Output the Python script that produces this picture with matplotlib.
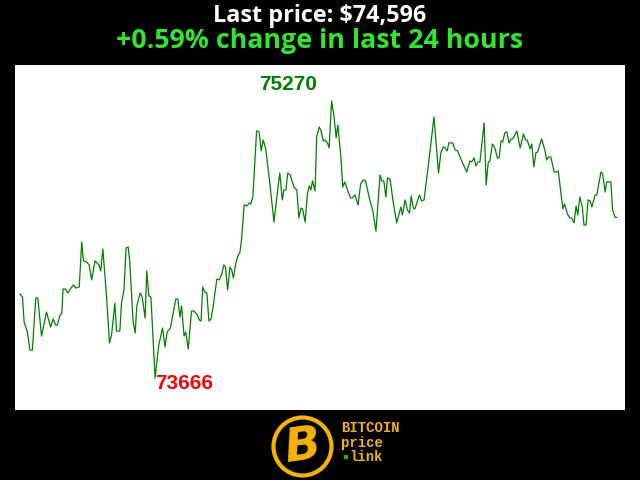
import numpy as np
import matplotlib
matplotlib.use('Agg')
import matplotlib.pyplot as plt
from matplotlib.patches import Circle

# minutes since start of the 24h window
minutes = [0, 6, 10, 18, 24, 30, 38, 43, 52, 64, 74, 80, 86, 90, 97, 101, 104, 110, 115, 123,
           129, 135, 143, 149, 153, 161, 167, 173, 181, 191, 195, 200, 209, 216, 221, 229, 233, 241, 245, 251,
           256, 261, 265, 273, 278, 282, 290, 295, 302, 306, 311, 316, 326, 335, 344, 350, 355, 363, 376, 381,
           386, 390, 396, 400, 406, 414, 420, 428, 433, 437, 441, 446, 451, 456, 461, 466, 475, 481, 487, 492,
           496, 501, 507, 511, 515, 521, 525, 531, 535, 541, 547, 553, 557, 562, 571, 577, 582, 587, 593, 602,
           613, 623, 627, 633, 637, 642, 646, 652, 661, 668, 673, 678, 682, 688, 694, 698, 702, 706, 712, 716,
           722, 726, 732, 736, 742, 746, 752, 758, 763, 767, 774, 779, 784, 792, 798, 802, 808, 816, 822, 828,
           834, 843, 851, 859, 869, 873, 878, 883, 887, 893, 901, 909, 919, 923, 929, 935, 940, 944, 949, 953,
           964, 969, 975, 985, 999, 1010, 1016, 1022, 1026, 1031, 1035, 1040, 1044, 1050, 1056, 1066, 1078, 1086, 1090, 1096,
           1100, 1106, 1110, 1120, 1125, 1130, 1134, 1140, 1146, 1152, 1156, 1161, 1165, 1170, 1175, 1180, 1185, 1189, 1193, 1199,
           1207, 1215, 1220, 1224, 1231, 1235, 1240, 1245, 1249, 1259, 1267, 1271, 1275, 1281, 1289, 1294, 1299, 1310, 1314, 1321,
           1327, 1331, 1337, 1342, 1346, 1351, 1357, 1361, 1366, 1371, 1376, 1380, 1388, 1392, 1402, 1406, 1412, 1416, 1426, 1430,
           1436, 1440]

prices = [74152, 74135, 73990, 73932, 73828, 73828, 74129, 74129, 73909, 74048, 73961, 74008, 73973, 73973, 74031, 74042, 74181, 74181, 74158, 74187,
          74205, 74187, 74193, 74454, 74344, 74338, 74320, 74234, 74344, 74320, 74286, 74413, 74135, 73869, 73915, 74100, 73938, 73938, 74100, 74176,
          74419, 74425, 74338, 73990, 73927, 74083, 74158, 74135, 74013, 74286, 74141, 74135, 73666, 73857, 73956, 73846, 73932, 73956, 74123, 74123,
          74019, 74083, 73909, 73932, 73834, 74054, 74054, 74031, 74002, 73996, 74193, 74164, 74158, 73996, 74008, 74077, 74239, 74234, 74268, 74320,
          74309, 74176, 74309, 74291, 74245, 74332, 74367, 74396, 74477, 74668, 74662, 74679, 74674, 74714, 75096, 75091, 74981, 75044, 74992, 74813,
          74569, 74778, 74853, 74697, 74755, 74755, 74853, 74842, 74772, 74755, 74593, 74650, 74645, 74569, 74737, 74778, 74755, 74807, 74749, 75062,
          75119, 75102, 75038, 75044, 75027, 74998, 75270, 75177, 75056, 75131, 74957, 74772, 74801, 74743, 74708, 74708, 74726, 74668, 74789, 74813,
          74807, 74708, 74639, 74517, 74842, 74807, 74807, 74714, 74824, 74818, 74679, 74564, 74656, 74610, 74697, 74639, 74621, 74720, 74650, 74645,
          74726, 74691, 74697, 74888, 75177, 74853, 74975, 75004, 74998, 74981, 75027, 75027, 75027, 74986, 74981, 74923, 74859, 74923, 74917, 74940,
          74894, 74917, 74917, 75143, 74784, 74917, 74923, 75021, 74998, 74940, 74940, 75038, 75033, 75085, 75091, 75027, 75050, 75050, 75067, 75096,
          74998, 75079, 75044, 75044, 74992, 75021, 74888, 74969, 74975, 75050, 74981, 74928, 74946, 74946, 74859, 74859, 74865, 74645, 74674, 74616,
          74593, 74593, 74564, 74662, 74610, 74714, 74656, 74552, 74552, 74697, 74691, 74656, 74726, 74726, 74859, 74847, 74743, 74801, 74801, 74639,
          74596, 74596]

last_price = 74596
change_pct = 0.59

x = np.array(minutes)
y = np.array(prices)

fig = plt.figure(figsize=(6.4, 4.8), dpi=100, facecolor='black')

fig.text(0.5, 1 - 16 / 480, f"Last price: ${last_price:,}", color='white',
         fontsize=16.8, fontweight='bold', family='Open Sans', ha='center', va='center')
fig.text(0.5, 1 - 41 / 480, f"+{change_pct}% change in last 24 hours", color='#2de82d',
         fontsize=19.3, fontweight='bold', family='Open Sans', ha='center', va='center')

ax = fig.add_axes([15 / 640, 70 / 480, 610 / 640, 345 / 480])
ax.set_facecolor('white')
ax.plot(x, y, color='green', linewidth=0.9)
ax.set_xlim(-12, 1460)
ax.set_ylim(73481, 75478)
ax.set_xticks([])
ax.set_yticks([])
for s in ax.spines.values():
    s.set_visible(False)

imax = int(np.argmax(y))
imin = int(np.argmin(y))
ax.annotate(str(y[imax]), (x[imax], y[imax]), xytext=(-44, 16), textcoords='offset pixels',
            color='green', fontsize=15, fontweight='bold', family='Liberation Sans',
            ha='center', va='center')
ax.annotate(str(y[imin]), (x[imin], y[imin]), xytext=(29, -5), textcoords='offset pixels',
            color='red', fontsize=15, fontweight='bold', family='Liberation Sans',
            ha='center', va='center')

# logo
gold = '#f5b400'
lax = fig.add_axes([265 / 640, 0, 75 / 640, 70 / 480])
lax.set_xlim(265, 340)
lax.set_ylim(70, 0)
lax.set_aspect('equal')
lax.axis('off')
lax.add_patch(Circle((302.5, 36.5), 29, fill=False, edgecolor=gold, linewidth=3))
lax.text(303, 37, 'B', color=gold, fontsize=34, fontweight='heavy', style='italic',
         family='DejaVu Sans', ha='center', va='center', rotation=8)

fig.text(341 / 640, 1 - 428 / 480, 'BITCOIN', color=gold, fontsize=10, fontweight='bold',
         family='Liberation Mono', ha='left', va='center')
fig.text(341 / 640, 1 - 443 / 480, 'price', color=gold, fontsize=10, fontweight='bold',
         family='Liberation Mono', ha='left', va='center')
fig.text(349 / 640, 1 - 457 / 480, 'link', color=gold, fontsize=10, fontweight='bold',
         family='Liberation Mono', ha='left', va='center')
fig.text(345 / 640, 1 - 456 / 480, '\u25aa', color='#1db31d', fontsize=6,
         family='DejaVu Sans', ha='center', va='center')

plt.savefig('out.png', dpi=100, facecolor='black')
